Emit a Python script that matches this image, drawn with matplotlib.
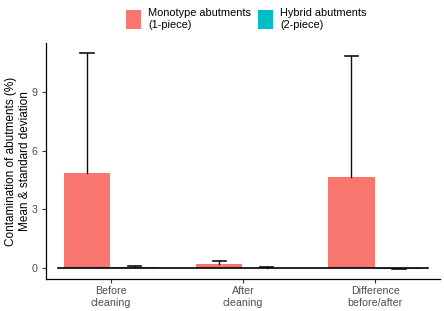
import matplotlib
matplotlib.use("Agg")
import matplotlib.pyplot as plt
import numpy as np
from matplotlib.patches import Patch

plt.rcParams['font.family'] = ['Liberation Sans', 'DejaVu Sans']

categories = ["Before\ncleaning", "After\ncleaning", "Difference\nbefore/after"]
series_names = ["Monotype abutments\n(1-piece)", "Hybrid abutments\n(2-piece)"]
mono_mean = [4.86, 0.20, 4.68]
mono_sd = [6.14, 0.14, 6.18]
hyb_mean = [0.03, 0.02, -0.03]
hyb_sd = [0.05, 0.05, -0.04]
yticks = [0, 3, 6, 9]
colors = ["#F8766D", "#00BFC4"]

fig = plt.figure(figsize=(4.44, 3.11), dpi=100)
ax = fig.add_axes([0.1036, 0.1029, 0.8874, 0.7591])

x = np.arange(len(categories))
w = 0.35
off = 0.18
cap = 0.05
for means, sds, sign, col in [(mono_mean, mono_sd, -1, colors[0]), (hyb_mean, hyb_sd, 1, colors[1])]:
    xs = x + sign * off
    ax.bar(xs, means, width=w, color=col, zorder=2)
    for xi, m, s in zip(xs, means, sds):
        top = m + s
        ax.plot([xi, xi], [m, top], color="#111111", lw=1.0, zorder=3)
        ax.plot([xi - cap, xi + cap], [top, top], color="#111111", lw=1.2, zorder=3)

ax.plot([-0.4, 2.4], [0, 0], color="black", lw=1.2, zorder=4)

ax.set_xlim(-0.49, 2.49)
ax.set_ylim(-0.56, 11.52)
ax.set_xticks(x)
ax.set_xticklabels(categories, fontsize=7.7, color="#4D4D4D", linespacing=1.2)
ax.set_yticks(yticks)
ax.set_yticklabels([str(t) for t in yticks], fontsize=7.7, color="#4D4D4D")
ax.tick_params(axis='x', length=3, width=0.8, color="#333333", pad=2)
ax.tick_params(axis='y', length=3, width=0.8, color="#333333", pad=3)
for s in ["top", "right"]:
    ax.spines[s].set_visible(False)
for s in ["left", "bottom"]:
    ax.spines[s].set_linewidth(0.9)
    ax.spines[s].set_color("black")

ax.set_ylabel("Contamination of abutments (%)\nMean & standard deviation", fontsize=8.5,
              linespacing=1.2, labelpad=0.5)

handles = [Patch(facecolor=c, edgecolor='none') for c in colors]
leg = fig.legend(handles, series_names, loc="upper center", bbox_to_anchor=(0.555, 1.005), ncol=2,
                 frameon=False, fontsize=7.9, handlelength=1.35, handleheight=2.4,
                 handletextpad=0.7, columnspacing=0.6, labelspacing=0.2)
for t in leg.get_texts():
    t.set_linespacing(1.15)

fig.savefig("out.png", dpi=100)
